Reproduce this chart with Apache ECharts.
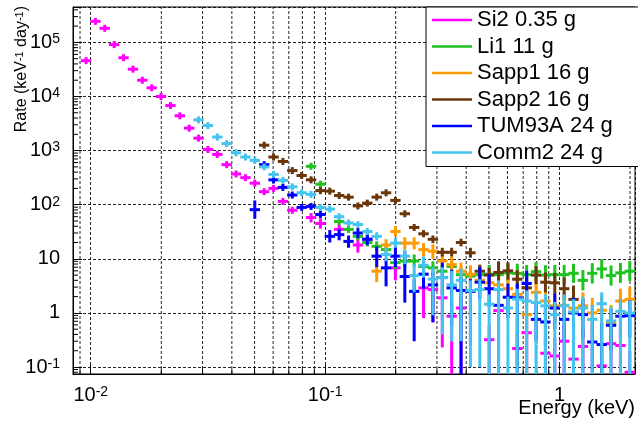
<!DOCTYPE html>
<html>
<head>
<meta charset="utf-8">
<script src="https://cdn.jsdelivr.net/npm/echarts@6.0.0/dist/echarts.min.js"></script>
<style>
  html, body { margin: 0; padding: 0; background: #fff; }
  #chart { width: 638px; height: 421px; }
</style>
</head>
<body>
<div id="chart"></div>
<script>
// bin centres (keV), log spaced
var energies = [0.00955, 0.01047, 0.01148, 0.01259, 0.0138, 0.01514, 0.0166, 0.0182, 0.01995, 0.02188,
    0.02399, 0.0263, 0.02884, 0.03162, 0.03467, 0.03802, 0.04169, 0.04571, 0.05012, 0.05495,
    0.06026, 0.06607, 0.07244, 0.07943, 0.0871, 0.0955, 0.1047, 0.1148, 0.1259, 0.138,
    0.1514, 0.166, 0.182, 0.1995, 0.2188, 0.2399, 0.263, 0.2884, 0.3162, 0.3467,
    0.3802, 0.4169, 0.4571, 0.5012, 0.5495, 0.6026, 0.6607, 0.7244, 0.7943, 0.871,
    0.955, 1.047, 1.148, 1.259, 1.38, 1.514, 1.66, 1.82, 1.995];
var binHalfWidth = 1.047; // half bin width as a factor

// [bin, rate, low, high]  (no low/high -> only the marker)
var si2 = [[0, 46000], [1, 245000], [2, 182000], [3, 91000], [4, 52000], [5, 32000], [6, 20000], [7, 14500],
    [8, 10000], [9, 6800], [10, 4400], [11, 2600], [12, 1700], [13, 1050], [14, 850], [15, 550], [16, 370],
    [17, 316], [18, 250], [19, 174], [20, 200], [21, 115], [22, 79], [24, 58, 47, 70], [25, 45, 36, 56],
    [27, 35, 27, 45], [29, 18, 13, 24], [30, 23, 17, 30], [33, 6.8, 4, 9.5], [36, 2.9, 0.8, 3.9],
    [37, 2.7, 0.66, 3.6], [38, 1.9, 0.23, 2.7], [39, 0.87, 0.01, 1.6], [40, 1.23, 0.01, 2.0],
    [43, 0.32, 0.01, 0.6], [44, 1.1, 0.01, 1.8], [46, 0.22, 0.01, 0.45], [47, 0.43, 0.01, 0.8],
    [49, 0.18, 0.01, 0.4], [50, 0.16, 0.01, 0.35], [51, 0.30, 0.01, 0.6], [52, 0.14, 0.01, 0.3],
    [53, 0.24, 0.01, 0.5], [55, 0.105, 0.01, 0.25], [56, 0.27, 0.01, 0.55], [57, 0.25, 0.01, 0.5],
    [58, 0.08, 0.01, 0.2]];
var li1 = [[24, 513, 480, 550], [25, 240, 220, 262], [27, 49, 43, 56], [28, 35, 30, 41], [29, 26, 22, 31],
    [30, 20, 17, 24], [31, 17, 14, 21], [32, 14.8, 12, 18], [33, 8.5, 6.5, 11], [34, 9.1, 7, 12], [35, 9.1, 7, 12],
    [36, 7.2, 5.4, 9.5], [37, 6.8, 5, 9], [38, 5.9, 4.3, 8], [39, 7.2, 5.3, 9.5], [40, 5.1, 3.7, 7],
    [41, 4.8, 3.3, 7], [42, 5.1, 3.5, 7.5], [43, 5.2, 3.5, 7.7], [44, 5.1, 3.4, 7.6], [45, 5.5, 3.7, 8.2],
    [46, 5.4, 3.6, 8.1], [47, 5.1, 3.4, 7.7], [48, 5.8, 3.9, 8.7], [49, 5.0, 3.3, 7.6], [50, 5.1, 3.4, 7.7],
    [51, 5.1, 3.4, 7.7], [52, 5.4, 3.6, 8.1], [53, 4.0, 2.6, 6.2], [54, 5.4, 3.5, 8.3], [55, 6.5, 4.3, 9.8],
    [56, 4.9, 3.2, 7.5], [57, 5.5, 3.6, 8.4], [58, 5.9, 3.9, 9]];
var sapp1 = [[31, 5.9, 3.7, 9.5], [32, 18, 14, 23], [33, 32, 26, 40], [34, 19.5, 15, 25], [35, 19.5, 15, 25],
    [36, 14.8, 11, 19.5], [37, 13.8, 10, 18.5], [38, 9.1, 6.5, 12.5], [39, 7.8, 5.5, 11], [40, 5.9, 4, 8.5],
    [41, 5.2, 3.5, 7.6], [42, 4.0, 2.6, 6], [43, 3.6, 2.3, 5.5], [44, 3.3, 2.1, 5], [45, 2.8, 1.7, 4.4],
    [46, 2.2, 1.3, 3.5], [47, 0.93, 0.01, 1.9], [48, 2.4, 1.4, 3.8], [49, 1.66, 0.9, 2.8], [50, 1.35, 0.7, 2.4],
    [51, 1.38, 0.7, 2.4], [52, 1.23, 0.6, 2.2], [53, 1.35, 0.7, 2.4], [54, 1.0, 0.45, 1.9], [55, 1.12, 0.5, 2.1],
    [56, 0.66, 0.25, 1.4], [57, 1.66, 0.9, 2.8], [58, 1.78, 1.0, 3.0]];
var sapp2 = [[19, 1260], [20, 760], [21, 630], [22, 427], [23, 347], [24, 288], [25, 182], [26, 178],
    [27, 148], [28, 138], [29, 95, 85, 106], [30, 107, 96, 119], [31, 138, 124, 153], [32, 166, 150, 184],
    [33, 120, 107, 135], [34, 68, 60, 77], [35, 38, 33, 44], [36, 29, 25, 34], [37, 23, 19.5, 27],
    [38, 13.2, 11, 16], [39, 13.2, 11, 16], [40, 20, 17, 23.5], [41, 12.9, 10.5, 16], [42, 5.9, 4.4, 7.8],
    [43, 5.0, 3.6, 6.8], [44, 5.6, 3.4, 9], [45, 6.0, 4.1, 8.6], [46, 4.2, 2.8, 6.2], [47, 2.9, 1.8, 4.6],
    [48, 5.0, 3.4, 7.3], [49, 3.7, 2.4, 5.6], [50, 3.6, 2.3, 5.5], [51, 2.8, 1.7, 4.5], [52, 1.78, 0.95, 3.2]];
var tum93a = [[18, 81, 55, 120], [19, 550], [20, 288], [21, 209], [22, 151], [23, 89, 82, 97], [24, 93, 85, 101],
    [25, 66, 59, 73], [26, 26, 20, 34], [27, 28, 22, 35], [28, 21, 16, 27], [29, 30, 24, 37], [30, 23, 18, 29],
    [31, 11.2, 7, 17], [32, 6.8, 3.1, 10.2], [33, 11.2, 7, 17], [34, 4.7, 1.55, 13.8], [35, 2.5, 0.3, 4.2],
    [36, 5.2, 2.8, 9.2], [37, 3.3, 0.68, 5.6], [38, 4.5, 2.2, 8.5], [39, 2.9, 0.58, 6.3], [40, 2.6, 0.01, 4.5],
    [41, 2.5, 0.25, 4.2], [42, 3.7, 1.8, 7], [43, 2.8, 1.3, 5.2], [44, 1.38, 0.01, 3], [45, 1.95, 0.8, 3.5],
    [46, 1.9, 0.09, 3.5], [47, 3.5, 1.6, 6], [48, 0.76, 0.3, 1.5], [49, 0.68, 0.25, 1.4], [50, 1.23, 0.5, 2.3],
    [51, 0.76, 0.3, 1.5], [52, 1.0, 0.4, 1.9], [53, 0.93, 0.35, 1.8], [54, 0.29, 0.08, 0.7],
    [55, 0.26, 0.07, 0.65], [56, 0.59, 0.2, 1.2], [57, 0.87, 0.35, 1.7], [58, 0.89, 0.35, 1.7]];
var comm2 = [[12, 3700], [13, 2900], [14, 1780], [15, 1350], [16, 910], [17, 760], [18, 660], [19, 500],
    [20, 363], [21, 282], [22, 214], [23, 166], [24, 155], [25, 89], [26, 83], [27, 60, 55, 66], [28, 46, 41, 51],
    [29, 43, 38, 48], [30, 32, 28, 37], [31, 26, 22, 31], [32, 12, 9, 16], [33, 19.5, 16, 24], [34, 11.2, 8, 15],
    [35, 4.9, 2.4, 8], [36, 7.6, 4.5, 11], [37, 4.2, 0.9, 7], [38, 4.5, 0.4, 7], [39, 3.3, 0.3, 6],
    [40, 4.0, 0.3, 6.5], [41, 2.6, 0.1, 4.0], [42, 2.7, 0.1, 4.2], [43, 1.45, 0.01, 2.2], [44, 2.7, 0.01, 4],
    [45, 1.23, 0.01, 2], [46, 1.8, 0.01, 2.8], [47, 1.66, 0.01, 2.6], [48, 1.55, 0.01, 2.5], [49, 1.35, 0.01, 2.2],
    [50, 0.93, 0.01, 1.6], [51, 1.35, 0.01, 2.2], [52, 1.05, 0.01, 1.8], [53, 1.23, 0.01, 2],
    [54, 0.76, 0.01, 1.4], [55, 1.48, 0.01, 2.4], [56, 0.71, 0.01, 1.3], [57, 1.07, 0.01, 1.8],
    [58, 1.0, 0.01, 1.7]];

var seriesNames = ['Si2 0.35 g', 'Li1 11 g', 'Sapp1 16 g', 'Sapp2 16 g', 'TUM93A 24 g', 'Comm2 24 g'];
var seriesData = [si2, li1, sapp1, sapp2, tum93a, comm2];
var seriesColors = ['#ff00ff', '#1fc21f', '#ff9b00', '#6b3609', '#0000ff', '#44c4ef'];

// axis ranges
var xMin = 0.0084, xMax = 2.1;
var yMin = 0.0743, yMax = 451000;
var minorSteps = [2, 3, 4, 5, 6, 7, 8, 9];

function minorValues(lo, hi, fromExp, toExp) {
    var out = [];
    for (var p = fromExp; p <= toExp; p++) {
        minorSteps.forEach(function (m) {
            var v = m * Math.pow(10, p);
            if (v > lo && v < hi) out.push(+v.toPrecision(3));
        });
    }
    return out;
}
var xMinorGrid = minorValues(xMin, xMax, -3, 0);
var yMinorTicks = minorValues(yMin, yMax, -2, 5);

var font = 'Liberation Sans';

function powLabel(v) {
    var l = Math.log10(v);
    var p = Math.round(l);
    if (Math.abs(l - p) > 1e-6) return '';
    if (p === 0) return '1';
    if (p === 1) return '10';
    return '10{sup|' + p + '}';
}

var labelRich = {
    sup: { fontSize: 14, fontFamily: font, color: '#000', verticalAlign: 'top', lineHeight: 12 }
};

function renderPoint(params, api) {
    var e = api.value(0), r = api.value(1), lo = api.value(2), hi = api.value(3);
    var c = api.coord([e, r]);
    var left = api.coord([e / binHalfWidth, r]);
    var right = api.coord([e * binHalfWidth, r]);
    var top = api.coord([e, hi]);
    var bottom = api.coord([e, lo]);
    var color = api.visual('color');
    return {
        type: 'group',
        children: [
            { type: 'line', shape: { x1: left[0] - 0.5, y1: c[1], x2: right[0] + 0.5, y2: c[1] },
              style: { stroke: color, lineWidth: 3 } },
            { type: 'line', shape: { x1: c[0], y1: Math.min(top[1], c[1] - 3.5), x2: c[0], y2: Math.max(bottom[1], c[1] + 3.5) },
              style: { stroke: color, lineWidth: 3 } }
        ]
    };
}

// dashed minor grid lines on x + short ticks on the bottom axis
function renderXMinor(params, api) {
    var b = api.coord([api.value(0), yMin]);
    var t = api.coord([api.value(0), yMax]);
    return {
        type: 'group',
        children: [
            { type: 'line', shape: { x1: b[0], y1: b[1], x2: t[0], y2: t[1] },
              style: { stroke: '#000', lineWidth: 1, lineDash: [3, 2], opacity: 0.85 } },
            { type: 'line', shape: { x1: b[0], y1: b[1], x2: b[0], y2: b[1] - 5 },
              style: { stroke: '#000', lineWidth: 1 } }
        ]
    };
}

function renderYMinor(params, api) {
    var p = api.coord([xMin, api.value(1)]);
    return { type: 'line', shape: { x1: p[0], y1: p[1], x2: p[0] + 5, y2: p[1] },
             style: { stroke: '#000', lineWidth: 1 } };
}

var dom = document.getElementById('chart');
var myChart = echarts.init(dom, null, { renderer: 'canvas' });

var series = [
    { type: 'custom', name: 'xminor', silent: true, renderItem: renderXMinor, clip: false,
      data: xMinorGrid.map(function (v) { return [v, yMin]; }), encode: { x: 0, y: 1 }, z: 1 },
    { type: 'custom', name: 'yminor', silent: true, renderItem: renderYMinor, clip: false,
      data: yMinorTicks.map(function (v) { return [xMin, v]; }), encode: { x: 0, y: 1 }, z: 1 }
];
seriesData.forEach(function (pts, i) {
    series.push({
        type: 'custom',
        name: seriesNames[i],
        renderItem: renderPoint,
        clip: true,
        itemStyle: { color: seriesColors[i] },
        encode: { x: 0, y: 1 },
        z: 2,
        data: pts.map(function (p) {
            return [energies[p[0]], p[1], p.length > 2 ? p[2] : p[1], p.length > 3 ? p[3] : p[1]];
        })
    });
});

var option = {
    animation: false,
    backgroundColor: '#fff',
    grid: { left: 73, right: 1, top: 7, bottom: 47, show: true, borderColor: '#000', borderWidth: 1 },
    xAxis: {
        type: 'log', logBase: 10, min: xMin, max: xMax,
        axisLine: { show: true, lineStyle: { color: '#000', width: 1 } },
        axisTick: { show: true, inside: true, length: 9, lineStyle: { color: '#000' } },
        axisLabel: { formatter: powLabel, interval: 0, margin: 11, color: '#000', fontSize: 20,
                     fontFamily: font, rich: labelRich },
        splitLine: { show: true, lineStyle: { color: '#000', type: [3, 2], opacity: 0.85 } }
    },
    yAxis: {
        type: 'log', logBase: 10, min: yMin, max: yMax,
        axisLine: { show: true, lineStyle: { color: '#000', width: 1 } },
        axisTick: { show: true, inside: true, length: 9, lineStyle: { color: '#000' } },
        axisLabel: { formatter: powLabel, interval: 0, margin: 13, color: '#000', fontSize: 20,
                     fontFamily: font, rich: labelRich },
        splitLine: { show: true, lineStyle: { color: '#000', type: [3, 2], opacity: 0.85 } }
    },
    legend: {
        data: seriesNames,
        orient: 'vertical',
        left: 426, top: 7,
        padding: [2, 29, 3, 6],
        itemGap: 4.5,
        itemWidth: 40, itemHeight: 2.5,
        icon: 'rect',
        borderColor: '#000', borderWidth: 1,
        backgroundColor: '#fff',
        textStyle: { fontSize: 22, fontFamily: font, color: '#000', lineHeight: 22 },
        selectedMode: false
    },
    graphic: [
        { type: 'text', x: 22, y: 6, rotation: Math.PI / 2,
          style: { text: 'Rate (keV{sup|-1} day{sup|-1})', font: '16px ' + font, fill: '#000',
                   align: 'right', verticalAlign: 'middle',
                   rich: { sup: { fontSize: 11, fontFamily: font, fill: '#000', verticalAlign: 'top', lineHeight: 10 } } } },
        { type: 'text', x: 635, y: 408,
          style: { text: 'Energy (keV)', font: '20px ' + font, fill: '#000', align: 'right', verticalAlign: 'middle' } }
    ],
    series: series
};

myChart.setOption(option);
window.addEventListener('resize', myChart.resize);
</script>
</body>
</html>
